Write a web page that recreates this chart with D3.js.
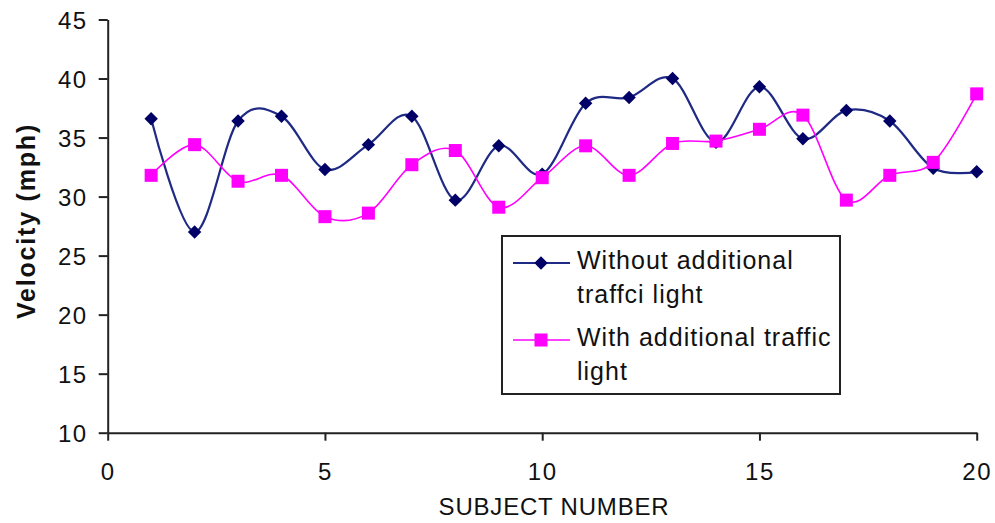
<!DOCTYPE html>
<html>
<head>
<meta charset="utf-8">
<script src="https://cdn.jsdelivr.net/npm/d3@7"></script>
<style>
  html, body { margin: 0; padding: 0; background: #fff; }
  svg { display: block; }
  text { font-family: "Liberation Sans", Arial, sans-serif; fill: #111; }
</style>
</head>
<body>
<svg id="chart" width="995" height="523"></svg>
<script>
const subjects = [1,2,3,4,5,6,7,8,9,10,11,12,13,14,15,16,17,18,19,20];
const withoutLight = [36.6,27.0,36.4,36.8,32.3,34.4,36.8,29.7,34.3,31.9,37.9,38.4,40.0,34.6,39.3,34.9,37.3,36.4,32.4,32.1];
const withLight = [31.8,34.4,31.3,31.8,28.3,28.6,32.7,33.9,29.1,31.6,34.3,31.8,34.5,34.7,35.7,36.9,29.7,31.8,32.9,38.7];
const xTicks = [0,5,10,15,20];
const yTicks = [10,15,20,25,30,35,40,45];
const seriesNames = [["Without additional","traffci light"],["With additional traffic","light"]];

const svg = d3.select("#chart");
const x = d3.scaleLinear().domain([0,20]).range([107.7,976.7]);
const y = d3.scaleLinear().domain([10,45]).range([432.7,19.5]);

// axes
const xAxis = svg.append("g").attr("transform",`translate(0,${y(10)})`)
  .call(d3.axisBottom(x).tickValues(xTicks).tickSize(8).tickSizeOuter(0).tickPadding(22));
const yAxis = svg.append("g").attr("transform",`translate(${x(0)},0)`)
  .call(d3.axisLeft(y).tickValues(yTicks).tickSize(9).tickSizeOuter(0).tickPadding(11));
[xAxis,yAxis].forEach(g=>{
  g.select(".domain").attr("stroke","#222").attr("stroke-width",2);
  g.selectAll(".tick line").attr("stroke","#222").attr("stroke-width",2);
  g.selectAll(".tick text").style("font-family","'Liberation Sans', Arial, sans-serif")
    .style("font-size","24px").attr("fill","#1a1a1a").style("letter-spacing","1.5px");
});
yAxis.selectAll(".tick text").attr("dy","0.36em");

// axis titles
svg.append("text").attr("x",554).attr("y",515).attr("text-anchor","middle")
  .style("font-size","24px").style("letter-spacing","0.8px").text("SUBJECT NUMBER");
svg.append("text").attr("transform","translate(35,221) rotate(-90)").attr("text-anchor","middle")
  .style("font-size","25px").style("font-weight","bold").style("letter-spacing","1.8px").text("Velocity (mph)");

const line = d3.line().x((d,i)=>x(subjects[i])).y(d=>y(d)).curve(d3.curveCatmullRom.alpha(0));

const colors = ["#1f2a85","#ff00ff"];
const markerColors = ["#000066","#ff00ff"];

// series lines
svg.append("path").datum(withoutLight).attr("d",line).attr("fill","none")
  .attr("stroke",colors[0]).attr("stroke-width",2.2);
svg.append("path").datum(withLight).attr("d",line).attr("fill","none")
  .attr("stroke",colors[1]).attr("stroke-width",1.6);

// markers
svg.append("g").selectAll("path").data(withoutLight).join("path")
  .attr("transform",(d,i)=>`translate(${x(subjects[i])},${y(d)}) rotate(45)`)
  .attr("d",d3.symbol().type(d3.symbolSquare).size(90)).attr("fill",markerColors[0]);
svg.append("g").selectAll("rect").data(withLight).join("rect")
  .attr("x",(d,i)=>x(subjects[i])-6.5).attr("y",d=>y(d)-6.5)
  .attr("width",13).attr("height",13).attr("fill",markerColors[1]);

// legend
const lg = svg.append("g");
lg.append("rect").attr("x",502).attr("y",236).attr("width",338).attr("height",158)
  .attr("fill","#fff").attr("stroke","#222").attr("stroke-width",2);
const legY = [263,340];
legY.forEach((ly,k)=>{
  lg.append("line").attr("x1",513).attr("x2",570).attr("y1",ly).attr("y2",ly)
    .attr("stroke",colors[k]).attr("stroke-width",k===0?2:1.6);
  if(k===0){
    lg.append("path").attr("transform",`translate(541,${ly}) rotate(45)`)
      .attr("d",d3.symbol().type(d3.symbolSquare).size(90)).attr("fill",markerColors[0]);
  } else {
    lg.append("rect").attr("x",541-6.5).attr("y",ly-6.5).attr("width",13).attr("height",13).attr("fill",markerColors[1]);
  }
  seriesNames[k].forEach((t,j)=>{
    lg.append("text").attr("x",577).attr("y",ly+6+j*34).style("font-size","25px")
      .style("letter-spacing","1px").text(t);
  });
});
</script>
</body>
</html>
